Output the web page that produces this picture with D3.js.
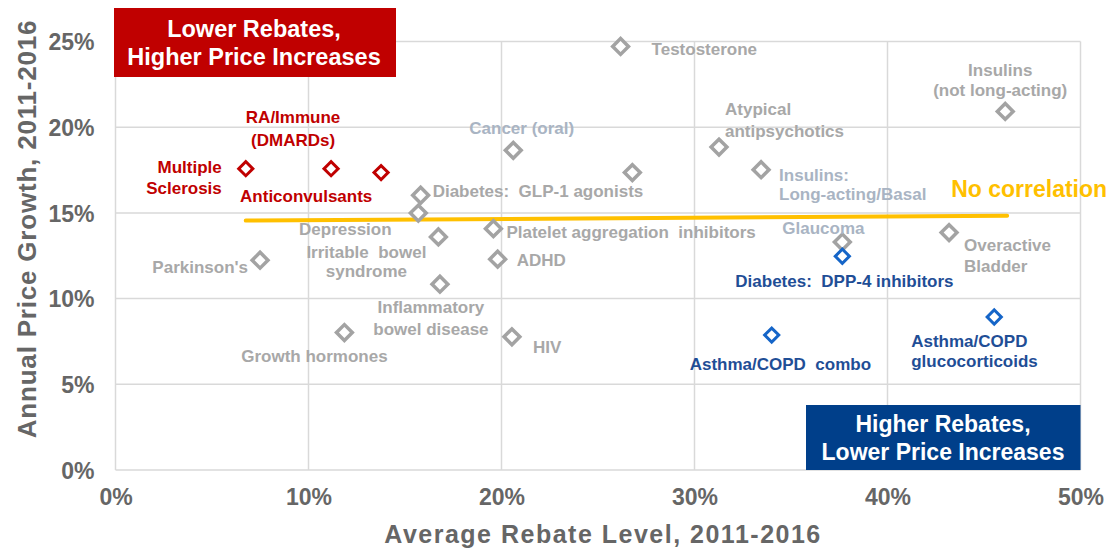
<!DOCTYPE html>
<html><head><meta charset="utf-8">
<script src="https://cdn.jsdelivr.net/npm/d3@7"></script>
<style>
body{margin:0;background:#fff}
text{font-family:Arial,"Liberation Sans",sans-serif;font-weight:bold}
.pre{white-space:pre}
</style>
</head><body>
<svg id="c" width="1111" height="550"></svg>
<script>
// ---- data ----
const categories = [
  "Multiple Sclerosis","RA/Immune (DMARDs)","Anticonvulsants","Testosterone","Cancer (oral)",
  "Unlabeled","Atypical antipsychotics","Insulins: Long-acting/Basal","Insulins (not long-acting)",
  "Diabetes: GLP-1 agonists","Depression","Irritable bowel syndrome","Parkinson's",
  "Inflammatory bowel disease","Growth hormones","Platelet aggregation inhibitors","ADHD","HIV",
  "Glaucoma","Overactive Bladder","Diabetes: DPP-4 inhibitors","Asthma/COPD combo",
  "Asthma/COPD glucocorticoids"
];
const rebate = [6.75,11.17,13.76,26.17,20.61,26.78,31.27,33.45,46.1,15.81,15.69,16.73,7.49,16.81,11.86,19.58,19.8,20.54,37.66,43.19,37.66,34.0,45.53];
const growth = [17.58,17.58,17.35,24.71,18.65,17.35,18.84,17.52,20.92,16.03,14.99,13.6,12.24,10.84,8.02,14.08,12.3,7.77,13.3,13.85,12.47,7.87,8.93];
const group = ["red","red","red","gray","gray","gray","gray","gray","gray","gray","gray","gray","gray","gray","gray","gray","gray","gray","gray","gray","blue","blue","blue"];
const labelLines = [
  ["Multiple","Sclerosis"],["RA/Immune","(DMARDs)"],["Anticonvulsants"],["Testosterone"],["Cancer (oral)"],
  [],["Atypical","antipsychotics"],["Insulins:","Long-acting/Basal"],["Insulins","(not long-acting)"],
  ["Diabetes:  GLP-1 agonists"],["Depression"],["Irritable  bowel","syndrome"],["Parkinson's"],
  ["Inflammatory","bowel disease"],["Growth hormones"],["Platelet aggregation  inhibitors"],["ADHD"],["HIV"],
  ["Glaucoma"],["Overactive","Bladder"],["Diabetes:  DPP-4 inhibitors"],["Asthma/COPD  combo"],
  ["Asthma/COPD","glucocorticoids"]
];
const xTicks = [0,10,20,30,40,50];
const yTicks = [0,5,10,15,20,25];
const trendRebate = [6.75,46.2];
const trendGrowth = [14.55,14.83];
const trendLabel = "No correlation";
const xTitle = "Average Rebate Level, 2011-2016";
const yTitle = "Annual Price Growth, 2011-2016";
const topBox = ["Lower Rebates,","Higher Price Increases"];
const bottomBox = ["Higher Rebates,","Lower Price Increases"];

// ---- layout / styles ----
// label placement: [anchor, dx, dy(first baseline), lineHeight]
const labelLayout = [
  ["end",-24,4,21],["middle",-38,-46,23],["start",-141,29,20],["start",31,9,20],["start",-44,-16,20],
  ["start",0,0,20],["start",6,-32,22],["start",18,11,19],["middle",-5,-35,20],
  ["start",12,2,20],["middle",-73,22,20],["middle",-72,21,19],["end",-12,13,20],
  ["middle",-9,29,22],["middle",-30,29,20],["start",13,9,20],["start",19,7,20],["start",21,16,20],
  ["start",-60,-8,20],["start",15,18,21],["start",-107,31,20],["start",-82,35,20],
  ["start",-83,30,20]
];
const bluishGray = new Set([4,7,18]);
const markerColor = {red:"#C00000",gray:"#A3A3A3",blue:"#1565C8"};
const textColor = {red:"#C00000",gray:"#A8A8A8",blue:"#1F4E96"};

const svg = d3.select("#c");
const m = {l:115.5, r:1080.5, t:41.5, b:470};
const x = d3.scaleLinear().domain([0,50]).range([m.l,m.r]);
const y = d3.scaleLinear().domain([0,25]).range([m.b,m.t]);

// gridlines
const grid = svg.append("g");
grid.selectAll("line.v").data(xTicks).join("line").attr("class","v")
  .attr("x1",d=>x(d)).attr("x2",d=>x(d)).attr("y1",y(0)).attr("y2",y(25))
  .attr("stroke","#D9D9D9").attr("stroke-width",1.5);
grid.selectAll("line.h").data(yTicks).join("line").attr("class","h")
  .attr("y1",d=>y(d)).attr("y2",d=>y(d)).attr("x1",x(0)).attr("x2",x(50))
  .attr("stroke","#D9D9D9").attr("stroke-width",1.5);

// axes (labels only)
const xAxis = d3.axisBottom(x).tickValues(xTicks).tickFormat(d=>d+"%").tickSize(0).tickPadding(0);
const gx = svg.append("g").attr("transform",`translate(0,${y(0)})`).call(xAxis);
gx.select(".domain").remove();
gx.selectAll("text").attr("y",35).attr("dy",0).attr("font-size",23).attr("fill","#666")
  .style("font-family","Arial, 'Liberation Sans', sans-serif").style("font-weight","bold");
const yAxis = d3.axisLeft(y).tickValues(yTicks).tickFormat(d=>d+"%").tickSize(0).tickPadding(0);
const gy = svg.append("g").attr("transform",`translate(${x(0)},0)`).call(yAxis);
gy.select(".domain").remove();
gy.selectAll("text").attr("x",-21).attr("dy","0.36em").attr("font-size",23).attr("fill","#666")
  .style("font-family","Arial, 'Liberation Sans', sans-serif").style("font-weight","bold");

// axis titles
svg.append("text").attr("x",603).attr("y",543).attr("text-anchor","middle")
  .attr("font-size",25).attr("letter-spacing",1.5).attr("fill","#666").text(xTitle);
svg.append("text").attr("transform","translate(36,229) rotate(-90)").attr("text-anchor","middle")
  .attr("font-size",26).attr("letter-spacing",0.8).attr("fill","#666").text(yTitle);

// quadrant boxes
const rb = svg.append("g");
rb.append("rect").attr("x",114).attr("y",8).attr("width",282).attr("height",69).attr("fill","#C00000");
rb.selectAll("text").data(topBox).join("text").attr("x",254).attr("y",(d,i)=>37+i*28)
  .attr("text-anchor","middle").attr("font-size",23.5).attr("fill","#fff").text(d=>d);
const bb = svg.append("g");
bb.append("rect").attr("x",806).attr("y",405).attr("width",274.5).attr("height",65).attr("fill","#003F8A");
bb.selectAll("text").data(bottomBox).join("text").attr("x",943).attr("y",(d,i)=>432+i*27.5)
  .attr("text-anchor","middle").attr("font-size",23).attr("fill","#fff").text(d=>d);

// trend line
svg.append("line").attr("x1",x(trendRebate[0])).attr("y1",y(trendGrowth[0]))
  .attr("x2",x(trendRebate[1])).attr("y2",y(trendGrowth[1]))
  .attr("stroke","#FFC000").attr("stroke-width",4).attr("stroke-linecap","round");
svg.append("text").attr("x",x(trendRebate[1])-56).attr("y",y(trendGrowth[1])-19)
  .attr("font-size",23).attr("fill","#FFC000").text(trendLabel);

// points
const idx = d3.range(categories.length);
const sym = d3.symbol().type(d3.symbolSquare);
svg.append("g").selectAll("path").data(idx).join("path")
  .attr("d",i=>sym.size(group[i]==="gray"?125:100)())
  .attr("transform",i=>`translate(${x(rebate[i])},${y(growth[i])}) rotate(45)`)
  .attr("fill","#fff").attr("stroke",i=>markerColor[group[i]])
  .attr("stroke-width",i=>group[i]==="gray"?3.5:3);

// labels
const lg = svg.append("g");
idx.forEach(i=>{
  const [anc,dx,dy,lh] = labelLayout[i];
  const t = lg.append("text").attr("class","pre").attr("text-anchor",anc).attr("font-size",17)
    .attr("fill", bluishGray.has(i) ? "#A9B4C3" : textColor[group[i]]);
  labelLines[i].forEach((s,k)=>{
    t.append("tspan").attr("x",x(rebate[i])+dx).attr("y",y(growth[i])+dy+k*lh).text(s);
  });
});
</script>
</body></html>
